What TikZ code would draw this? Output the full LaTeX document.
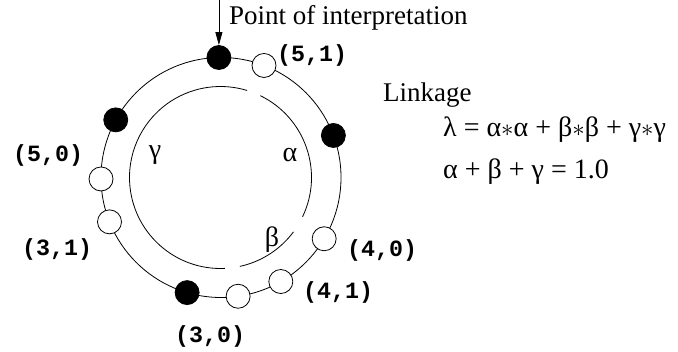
\documentclass[tikz,border=0pt]{standalone}
\usepackage{fontspec}
\setmainfont{Liberation Serif}
\newfontfamily\codefont{Liberation Mono}
\usetikzlibrary{arrows.meta,calc}
\tikzset{
  ln/.style={line width=0.8pt},
  opendot/.style={circle,draw,ln,fill=white,minimum size=24pt,inner sep=0pt},
  fulldot/.style={circle,draw,ln,fill=black,minimum size=24pt,inner sep=0pt},
  pair/.style={font=\codefont\bfseries\fontsize{23.3}{26}\selectfont,inner sep=0pt,anchor=base west},
  serif/.style={font=\fontsize{27}{30}\selectfont,inner sep=0pt,anchor=base west},
  eqn/.style={font=\fontsize{28}{30}\selectfont,inner sep=0pt,anchor=base west},
  greek/.style={font=\fontsize{28}{30}\selectfont,inner sep=0pt},
}
\begin{document}
\begin{tikzpicture}[x=1pt,y=1pt]
\useasboundingbox (0,0) rectangle (678,352);
\coordinate (c) at (221,174.5);
\coordinate (ci) at (220.5,174.5);
% outer ring
\draw[ln] (c) circle[radius=120];
% inner arcs
\draw[ln] ($(ci)+(64:91)$) arc[start angle=64, end angle=-25.6, radius=91];
\draw[ln] ($(ci)+(-36.7:91)$) arc[start angle=-36.7, end angle=-77.7, radius=91];
\draw[ln] ($(ci)+(272.8:91)$) arc[start angle=272.8, end angle=73, radius=91];
% dots
\node[fulldot] (d1) at ($(c)+(91:120)$) {};
\node[opendot] (d2) at ($(c)+(69:120)$) {};
\node[fulldot] (d3) at ($(c)+(20.5:120)$) {};
\node[opendot] (d4) at ($(c)+(-30.7:120)$) {};
\node[opendot] (d5) at ($(c)+(-60.1:120)$) {};
\node[opendot] (d6) at ($(c)+(-81.8:120)$) {};
\node[fulldot] (d7) at ($(c)+(-106.4:120)$) {};
\node[opendot] (d8) at ($(c)+(201.7:120)$) {};
\node[opendot] (d9) at ($(c)+(180.7:120)$) {};
\node[fulldot] (d10) at ($(c)+(151.3:120)$) {};
% arrow
\coordinate (astart) at ($(d1.north)+(0,46)$);
\draw[ln,-{Triangle[length=13pt,width=7pt]}] (astart) -- (d1.north);
\node[serif] (poi) at (229,327) {Point of interpretation};
% pair labels
\node[pair] (l51) at (277,290) {(5,1)};
\node[pair] (l50) at (13,190) {(5,0)};
\node[pair] (l31) at (22,96) {(3,1)};
\node[pair] (l40) at (347,95) {(4,0)};
\node[pair] (l41) at (303,53) {(4,1)};
\node[pair] (l30) at (175,9) {(3,0)};
% greek labels
\node[greek] (ga) at (155,197) {γ};
\node[greek] (al) at (290,197) {α};
\node[greek] (be) at (272,112) {β};
% linkage
\node[serif] (lk) at (383,250) {Linkage};
\node[eqn] (eq1) at (443,215) {λ = α$\ast$α + β$\ast$β + γ$\ast$γ};
\node[eqn] (eq2) at (443,173) {α + β + γ = 1.0};
\end{tikzpicture}
\end{document}
